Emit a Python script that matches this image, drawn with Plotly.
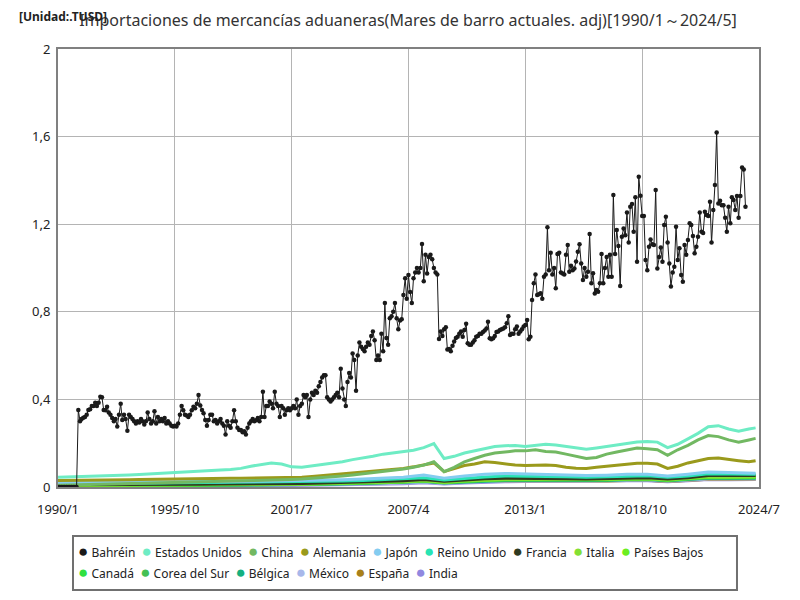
"""
Customs imports by partner, 1990/1 - 2024/5 (Bahrain monthly, others read at coarser steps)
"""
import pandas as pd
import plotly.graph_objects as go

TITLE = 'Importaciones de mercancías aduaneras(Mares de barro actuales. adj)[1990/1～2024/5]'
UNIT = '[Unidad:.TUSD]'

# x ticks
TICK_DATES = ['1990-01-01', '1995-10-01', '2001-07-01', '2007-04-01', '2013-01-01', '2018-10-01', '2024-07-01']
TICK_LABELS = ['1990/1', '1995/10', '2001/7', '2007/4', '2013/1', '2018/10', '2024/7']
Y_TICKS = [0, 0.4, 0.8, 1.2, 1.6, 2]
Y_LABELS = ['0', '0,4', '0,8', '1,2', '1,6', '2']

# Bahrain, monthly from 1990/1
BAHRAIN = [
    0, 0, 0, 0, 0, 0, 0, 0, 0, 0, 0, 0,
    0.352, 0.30, 0.31, 0.316, 0.32, 0.33, 0.352, 0.355, 0.37, 0.37, 0.385, 0.37,
    0.385, 0.412, 0.41, 0.352, 0.35, 0.367, 0.34, 0.33, 0.315, 0.30, 0.31, 0.276,
    0.33, 0.38, 0.306, 0.33, 0.31, 0.257, 0.33, 0.32, 0.31, 0.30, 0.29, 0.30,
    0.295, 0.31, 0.30, 0.285, 0.30, 0.34, 0.31, 0.29, 0.30, 0.346, 0.29, 0.32,
    0.30, 0.31, 0.30, 0.315, 0.29, 0.30, 0.29, 0.28, 0.276, 0.28, 0.276, 0.29,
    0.33, 0.37, 0.35, 0.33, 0.326, 0.32, 0.33, 0.35, 0.367, 0.36, 0.38, 0.42,
    0.372, 0.352, 0.337, 0.306, 0.28, 0.306, 0.33, 0.33, 0.30, 0.306, 0.29, 0.30,
    0.31, 0.29, 0.28, 0.24, 0.30, 0.28, 0.27, 0.30, 0.35, 0.30, 0.27, 0.26,
    0.26, 0.25, 0.255, 0.24, 0.27, 0.29, 0.30, 0.31, 0.30, 0.305, 0.315, 0.30,
    0.32, 0.435, 0.32, 0.37, 0.37, 0.39, 0.38, 0.36, 0.435, 0.38, 0.37, 0.32,
    0.37, 0.36, 0.33, 0.35, 0.36, 0.35, 0.36, 0.37, 0.36, 0.40, 0.33, 0.37,
    0.38, 0.42, 0.41, 0.42, 0.32, 0.40, 0.43, 0.42, 0.44, 0.43, 0.46, 0.48,
    0.50, 0.51, 0.51, 0.41, 0.40, 0.39, 0.40, 0.41, 0.42, 0.43, 0.41, 0.54,
    0.45, 0.40, 0.37, 0.48, 0.52, 0.50, 0.61, 0.58, 0.44, 0.60, 0.66, 0.64,
    0.63, 0.62, 0.64, 0.66, 0.65, 0.69, 0.71, 0.67, 0.58, 0.60, 0.58, 0.70,
    0.62, 0.84, 0.68, 0.65, 0.77, 0.78, 0.80, 0.84, 0.77, 0.72, 0.76, 0.766,
    0.877, 0.953, 0.86, 0.968, 0.89, 0.84, 0.953, 0.98, 1.0, 0.98, 1.0, 1.11,
    0.94, 1.06, 0.975, 1.05, 1.06, 1.04, 1.0, 0.98, 0.97, 0.676, 0.71, 0.69,
    0.72, 0.73, 0.628, 0.63, 0.62, 0.645, 0.664, 0.68, 0.686, 0.70, 0.71, 0.686,
    0.717, 0.745, 0.656, 0.65, 0.649, 0.66, 0.67, 0.686, 0.69, 0.70, 0.70, 0.708,
    0.715, 0.724, 0.755, 0.679, 0.675, 0.679, 0.69, 0.708, 0.71, 0.717, 0.72, 0.724,
    0.73, 0.748, 0.78, 0.694, 0.70, 0.70, 0.72, 0.733, 0.70, 0.71, 0.72, 0.733,
    0.74, 0.762, 0.675, 0.686, 0.854, 0.93, 0.97, 0.877, 0.88, 0.885, 0.86, 0.96,
    0.97, 1.186, 0.99, 1.07, 0.97, 1.0, 0.907, 1.064, 1.07, 0.98, 0.975, 0.97,
    1.06, 1.105, 0.983, 1.01, 0.99, 0.998, 1.03, 1.074, 1.109, 1.02, 0.945, 1.00,
    0.96, 0.983, 1.155, 0.93, 0.976, 0.884, 0.90, 0.892, 0.93, 1.064, 0.93, 1.0,
    1.05, 0.96, 1.06, 0.96, 1.333, 1.064, 1.174, 1.10, 0.918, 1.143, 1.18, 1.15,
    1.253, 1.116, 1.28, 1.292, 1.166, 1.323, 1.029, 1.417, 1.33, 1.237, 1.237, 1.036,
    0.99, 1.097, 1.13, 1.109, 1.105, 1.356, 0.998, 1.05, 1.094, 1.029, 1.196, 1.234,
    1.116, 1.021, 0.915, 0.98, 1.006, 1.188, 1.036, 1.09, 0.968, 0.937, 1.105, 1.06,
    1.128, 1.204, 1.196, 1.146, 1.067, 1.097, 1.143, 1.253, 1.166, 1.16, 1.257, 1.242,
    1.238, 1.303, 1.116, 1.265, 1.379, 1.619, 1.295, 1.307, 1.287, 1.287, 1.23, 1.166,
    1.28, 1.204, 1.323, 1.31, 1.265, 1.329, 1.23, 1.329, 1.459, 1.45, 1.28,
]

# half-yearly readings (Jan / Jul), last point 2024/5
SEMI_DATES = [f'{y}-{m:02d}-01' for y in range(1990, 2024) for m in (1, 7)] + ['2024-01-01', '2024-05-01']
ESTADOS_UNIDOS = [
    0.045, 0.046, 0.047, 0.048, 0.050, 0.052, 0.053, 0.055, 0.057, 0.060,
    0.062, 0.065, 0.067, 0.069, 0.072, 0.075, 0.078, 0.080, 0.085, 0.095,
    0.102, 0.110, 0.105, 0.092, 0.090, 0.096, 0.100, 0.106, 0.115, 0.125,
    0.132, 0.140, 0.150, 0.157, 0.162, 0.168, 0.180, 0.198, 0.130, 0.140,
    0.155, 0.165, 0.175, 0.185, 0.188, 0.190, 0.185, 0.190, 0.195, 0.192,
    0.185, 0.180, 0.172, 0.178, 0.185, 0.192, 0.198, 0.205, 0.208, 0.205,
    0.180, 0.195, 0.220, 0.245, 0.275, 0.280, 0.265, 0.255, 0.265, 0.270,
]
CHINA = [
    0.008, 0.009, 0.010, 0.011, 0.012, 0.013, 0.014, 0.015, 0.016, 0.017,
    0.018, 0.019, 0.020, 0.021, 0.022, 0.023, 0.024, 0.025, 0.026, 0.028,
    0.030, 0.032, 0.033, 0.034, 0.036, 0.039, 0.042, 0.046, 0.050, 0.055,
    0.060, 0.065, 0.070, 0.075, 0.082, 0.090, 0.100, 0.115, 0.070, 0.090,
    0.115, 0.130, 0.145, 0.155, 0.160, 0.165, 0.165, 0.170, 0.162, 0.160,
    0.150, 0.140, 0.130, 0.135, 0.150, 0.160, 0.170, 0.178, 0.175, 0.170,
    0.145, 0.170, 0.190, 0.215, 0.235, 0.230, 0.215, 0.205, 0.215, 0.222,
]
ALEMANIA = [
    0.030, 0.030, 0.031, 0.031, 0.032, 0.032, 0.033, 0.033, 0.034, 0.035,
    0.035, 0.036, 0.037, 0.037, 0.038, 0.038, 0.039, 0.040, 0.040, 0.041,
    0.042, 0.042, 0.041, 0.042, 0.044, 0.048, 0.052, 0.056, 0.060, 0.064,
    0.068, 0.072, 0.076, 0.080, 0.085, 0.092, 0.100, 0.110, 0.070, 0.085,
    0.098, 0.105, 0.115, 0.112, 0.105, 0.100, 0.098, 0.100, 0.100, 0.098,
    0.090, 0.086, 0.085, 0.090, 0.095, 0.100, 0.106, 0.108, 0.108, 0.105,
    0.085, 0.095, 0.110, 0.120, 0.130, 0.132, 0.125, 0.120, 0.115, 0.120,
]

# yearly readings (January), last point 2024/5
YEAR_DATES = [f'{y}-01-01' for y in range(1990, 2025)] + ['2024-05-01']
JAPON = [0.020, 0.021, 0.022, 0.022, 0.023, 0.024, 0.025, 0.025, 0.024, 0.025,
         0.027, 0.027, 0.028, 0.030, 0.033, 0.036, 0.040, 0.045, 0.055, 0.040,
         0.050, 0.058, 0.062, 0.060, 0.058, 0.055, 0.052, 0.054, 0.058, 0.058,
         0.050, 0.058, 0.068, 0.066, 0.064, 0.063]
REINO_UNIDO = [0.015, 0.015, 0.016, 0.016, 0.017, 0.018, 0.019, 0.020, 0.020, 0.021,
               0.022, 0.022, 0.023, 0.025, 0.027, 0.030, 0.033, 0.036, 0.042, 0.032,
               0.040, 0.046, 0.050, 0.050, 0.049, 0.047, 0.045, 0.047, 0.050, 0.051,
               0.044, 0.050, 0.060, 0.058, 0.057, 0.058]
FRANCIA = [0.010, 0.010, 0.011, 0.011, 0.012, 0.012, 0.013, 0.013, 0.014, 0.014,
           0.015, 0.015, 0.016, 0.018, 0.020, 0.022, 0.025, 0.028, 0.034, 0.026,
           0.032, 0.038, 0.040, 0.040, 0.040, 0.038, 0.036, 0.038, 0.041, 0.042,
           0.036, 0.042, 0.052, 0.051, 0.050, 0.052]
ITALIA = [0.008, 0.008, 0.009, 0.009, 0.010, 0.010, 0.011, 0.011, 0.012, 0.012,
          0.013, 0.013, 0.014, 0.016, 0.018, 0.020, 0.022, 0.025, 0.030, 0.022,
          0.028, 0.033, 0.035, 0.035, 0.035, 0.034, 0.033, 0.035, 0.038, 0.039,
          0.033, 0.040, 0.048, 0.047, 0.046, 0.048]
PAISES_BAJOS = [0.007, 0.007, 0.008, 0.008, 0.009, 0.009, 0.010, 0.010, 0.011, 0.011,
                0.012, 0.012, 0.013, 0.015, 0.017, 0.019, 0.021, 0.024, 0.029, 0.021,
                0.027, 0.032, 0.034, 0.034, 0.034, 0.033, 0.032, 0.034, 0.037, 0.038,
                0.032, 0.039, 0.046, 0.045, 0.045, 0.046]
CANADA = [0.006, 0.006, 0.007, 0.007, 0.008, 0.008, 0.009, 0.009, 0.010, 0.010,
          0.011, 0.011, 0.012, 0.014, 0.016, 0.018, 0.020, 0.023, 0.028, 0.020,
          0.026, 0.031, 0.033, 0.033, 0.033, 0.032, 0.031, 0.033, 0.036, 0.037,
          0.031, 0.037, 0.044, 0.043, 0.043, 0.044]
COREA = [0.004, 0.005, 0.005, 0.006, 0.006, 0.007, 0.008, 0.008, 0.008, 0.009,
         0.010, 0.010, 0.011, 0.013, 0.015, 0.017, 0.019, 0.022, 0.027, 0.019,
         0.025, 0.030, 0.032, 0.032, 0.032, 0.031, 0.030, 0.032, 0.035, 0.036,
         0.030, 0.036, 0.042, 0.041, 0.041, 0.042]
BELGICA = [0.005, 0.005, 0.005, 0.006, 0.006, 0.006, 0.007, 0.007, 0.007, 0.008,
           0.009, 0.009, 0.010, 0.012, 0.014, 0.016, 0.018, 0.020, 0.025, 0.018,
           0.023, 0.028, 0.030, 0.030, 0.030, 0.029, 0.028, 0.030, 0.033, 0.034,
           0.028, 0.034, 0.040, 0.039, 0.039, 0.040]
MEXICO = [0.003, 0.003, 0.004, 0.004, 0.004, 0.005, 0.005, 0.006, 0.006, 0.007,
          0.008, 0.008, 0.009, 0.010, 0.012, 0.014, 0.016, 0.018, 0.022, 0.016,
          0.021, 0.025, 0.027, 0.028, 0.028, 0.027, 0.027, 0.028, 0.031, 0.032,
          0.026, 0.032, 0.037, 0.036, 0.036, 0.037]
ESPANA = [0.012, 0.012, 0.013, 0.013, 0.013, 0.014, 0.014, 0.015, 0.015, 0.016,
          0.016, 0.016, 0.017, 0.018, 0.019, 0.020, 0.022, 0.024, 0.028, 0.020,
          0.024, 0.026, 0.027, 0.027, 0.027, 0.026, 0.026, 0.027, 0.030, 0.031,
          0.025, 0.030, 0.035, 0.034, 0.034, 0.035]
INDIA = [0.002, 0.002, 0.002, 0.003, 0.003, 0.003, 0.004, 0.004, 0.004, 0.005,
         0.005, 0.006, 0.007, 0.008, 0.009, 0.011, 0.013, 0.015, 0.019, 0.014,
         0.018, 0.022, 0.024, 0.025, 0.025, 0.025, 0.025, 0.026, 0.028, 0.029,
         0.024, 0.029, 0.034, 0.033, 0.033, 0.034]

# name, dates, values, colour (legend order)
SERIES = [
    ('Estados Unidos', SEMI_DATES, ESTADOS_UNIDOS, '#6eecc4'),
    ('China', SEMI_DATES, CHINA, '#72b862'),
    ('Alemania', SEMI_DATES, ALEMANIA, '#9a9a1c'),
    ('Japón', YEAR_DATES, JAPON, '#84ccf0'),
    ('Reino Unido', YEAR_DATES, REINO_UNIDO, '#28e4b4'),
    ('Francia', YEAR_DATES, FRANCIA, '#2f3a20'),
    ('Italia', YEAR_DATES, ITALIA, '#84e034'),
    ('Países Bajos', YEAR_DATES, PAISES_BAJOS, '#6cee22'),
    ('Canadá', YEAR_DATES, CANADA, '#30e040'),
    ('Corea del Sur', YEAR_DATES, COREA, '#44c054'),
    ('Bélgica', YEAR_DATES, BELGICA, '#14b080'),
    ('México', YEAR_DATES, MEXICO, '#a8b8ea'),
    ('España', YEAR_DATES, ESPANA, '#a8801a'),
    ('India', YEAR_DATES, INDIA, '#9088e0'),
]
BAHRAIN_COLOR = '#1a1a1a'

fig = go.Figure()

# small partners first, so Bahrain sits on top
for name, dates, values, color in reversed(SERIES):
    fig.add_trace(go.Scatter(
        x=pd.to_datetime(dates), y=values, mode='lines', name=name,
        line=dict(color=color, width=3),
    ))

bahrain_dates = pd.date_range('1990-01-01', periods=len(BAHRAIN), freq='MS')
fig.add_trace(go.Scatter(
    x=bahrain_dates, y=BAHRAIN, mode='lines+markers', name='Bahréin',
    line=dict(color=BAHRAIN_COLOR, width=1), marker=dict(color=BAHRAIN_COLOR, size=4.5),
))

fig.update_layout(
    width=800, height=600,
    margin=dict(l=50, r=49, t=41, b=121, autoexpand=False),
    paper_bgcolor='white', plot_bgcolor='white',
    font=dict(family='Noto Sans', color='#222', size=12),
    title=dict(text=TITLE, x=0.5, xanchor='center', y=0.98, yanchor='middle',
               font=dict(size=16, color='#333')),
    showlegend=False,
    xaxis=dict(
        type='date', range=['1990-01-01', '2024-07-01'],
        tickvals=pd.to_datetime(TICK_DATES), ticktext=TICK_LABELS,
        showgrid=True, gridcolor='#b4b4b4', gridwidth=1,
        showline=True, linecolor='#808080', linewidth=2, mirror=True,
        ticks='', ticklabelstandoff=9, tickfont=dict(size=13, color='#222'),
    ),
    yaxis=dict(
        range=[0, 2], tickvals=Y_TICKS, ticktext=Y_LABELS,
        showgrid=True, gridcolor='#b4b4b4', gridwidth=1,
        showline=True, linecolor='#808080', linewidth=2, mirror=True,
        zeroline=False, ticks='', ticklabelstandoff=3, tickfont=dict(size=13, color='#222'),
    ),
)

fig.add_annotation(text='<b>' + UNIT + '</b>', xref='paper', yref='paper', x=-0.058, y=1.075,
                   xanchor='left', yanchor='middle', showarrow=False,
                   font=dict(size=12, color='#222'))

# legend: two rows of coloured dots + names inside a grey box
legend_items = [('Bahréin', BAHRAIN_COLOR)] + [(s[0], s[3]) for s in SERIES]
rows = [legend_items[:9], legend_items[9:]]
gap = '\u00a0\u00a0'
for i, row in enumerate(rows):
    text = gap.join(f'<span style="color:{c};font-size:17px">●</span>\u00a0{n}' for n, c in row)
    fig.add_annotation(text=text, xref='paper', yref='paper', x=0.026, y=-0.146 - 0.048 * i,
                       xanchor='left', yanchor='middle', showarrow=False,
                       font=dict(size=12, color='#222'))
fig.add_shape(type='rect', xref='paper', yref='paper', x0=0.0214, x1=0.9686, y0=-0.235, y1=-0.112,
              line=dict(color='#707070', width=2), fillcolor='rgba(0,0,0,0)')

fig.write_html('out.html')
